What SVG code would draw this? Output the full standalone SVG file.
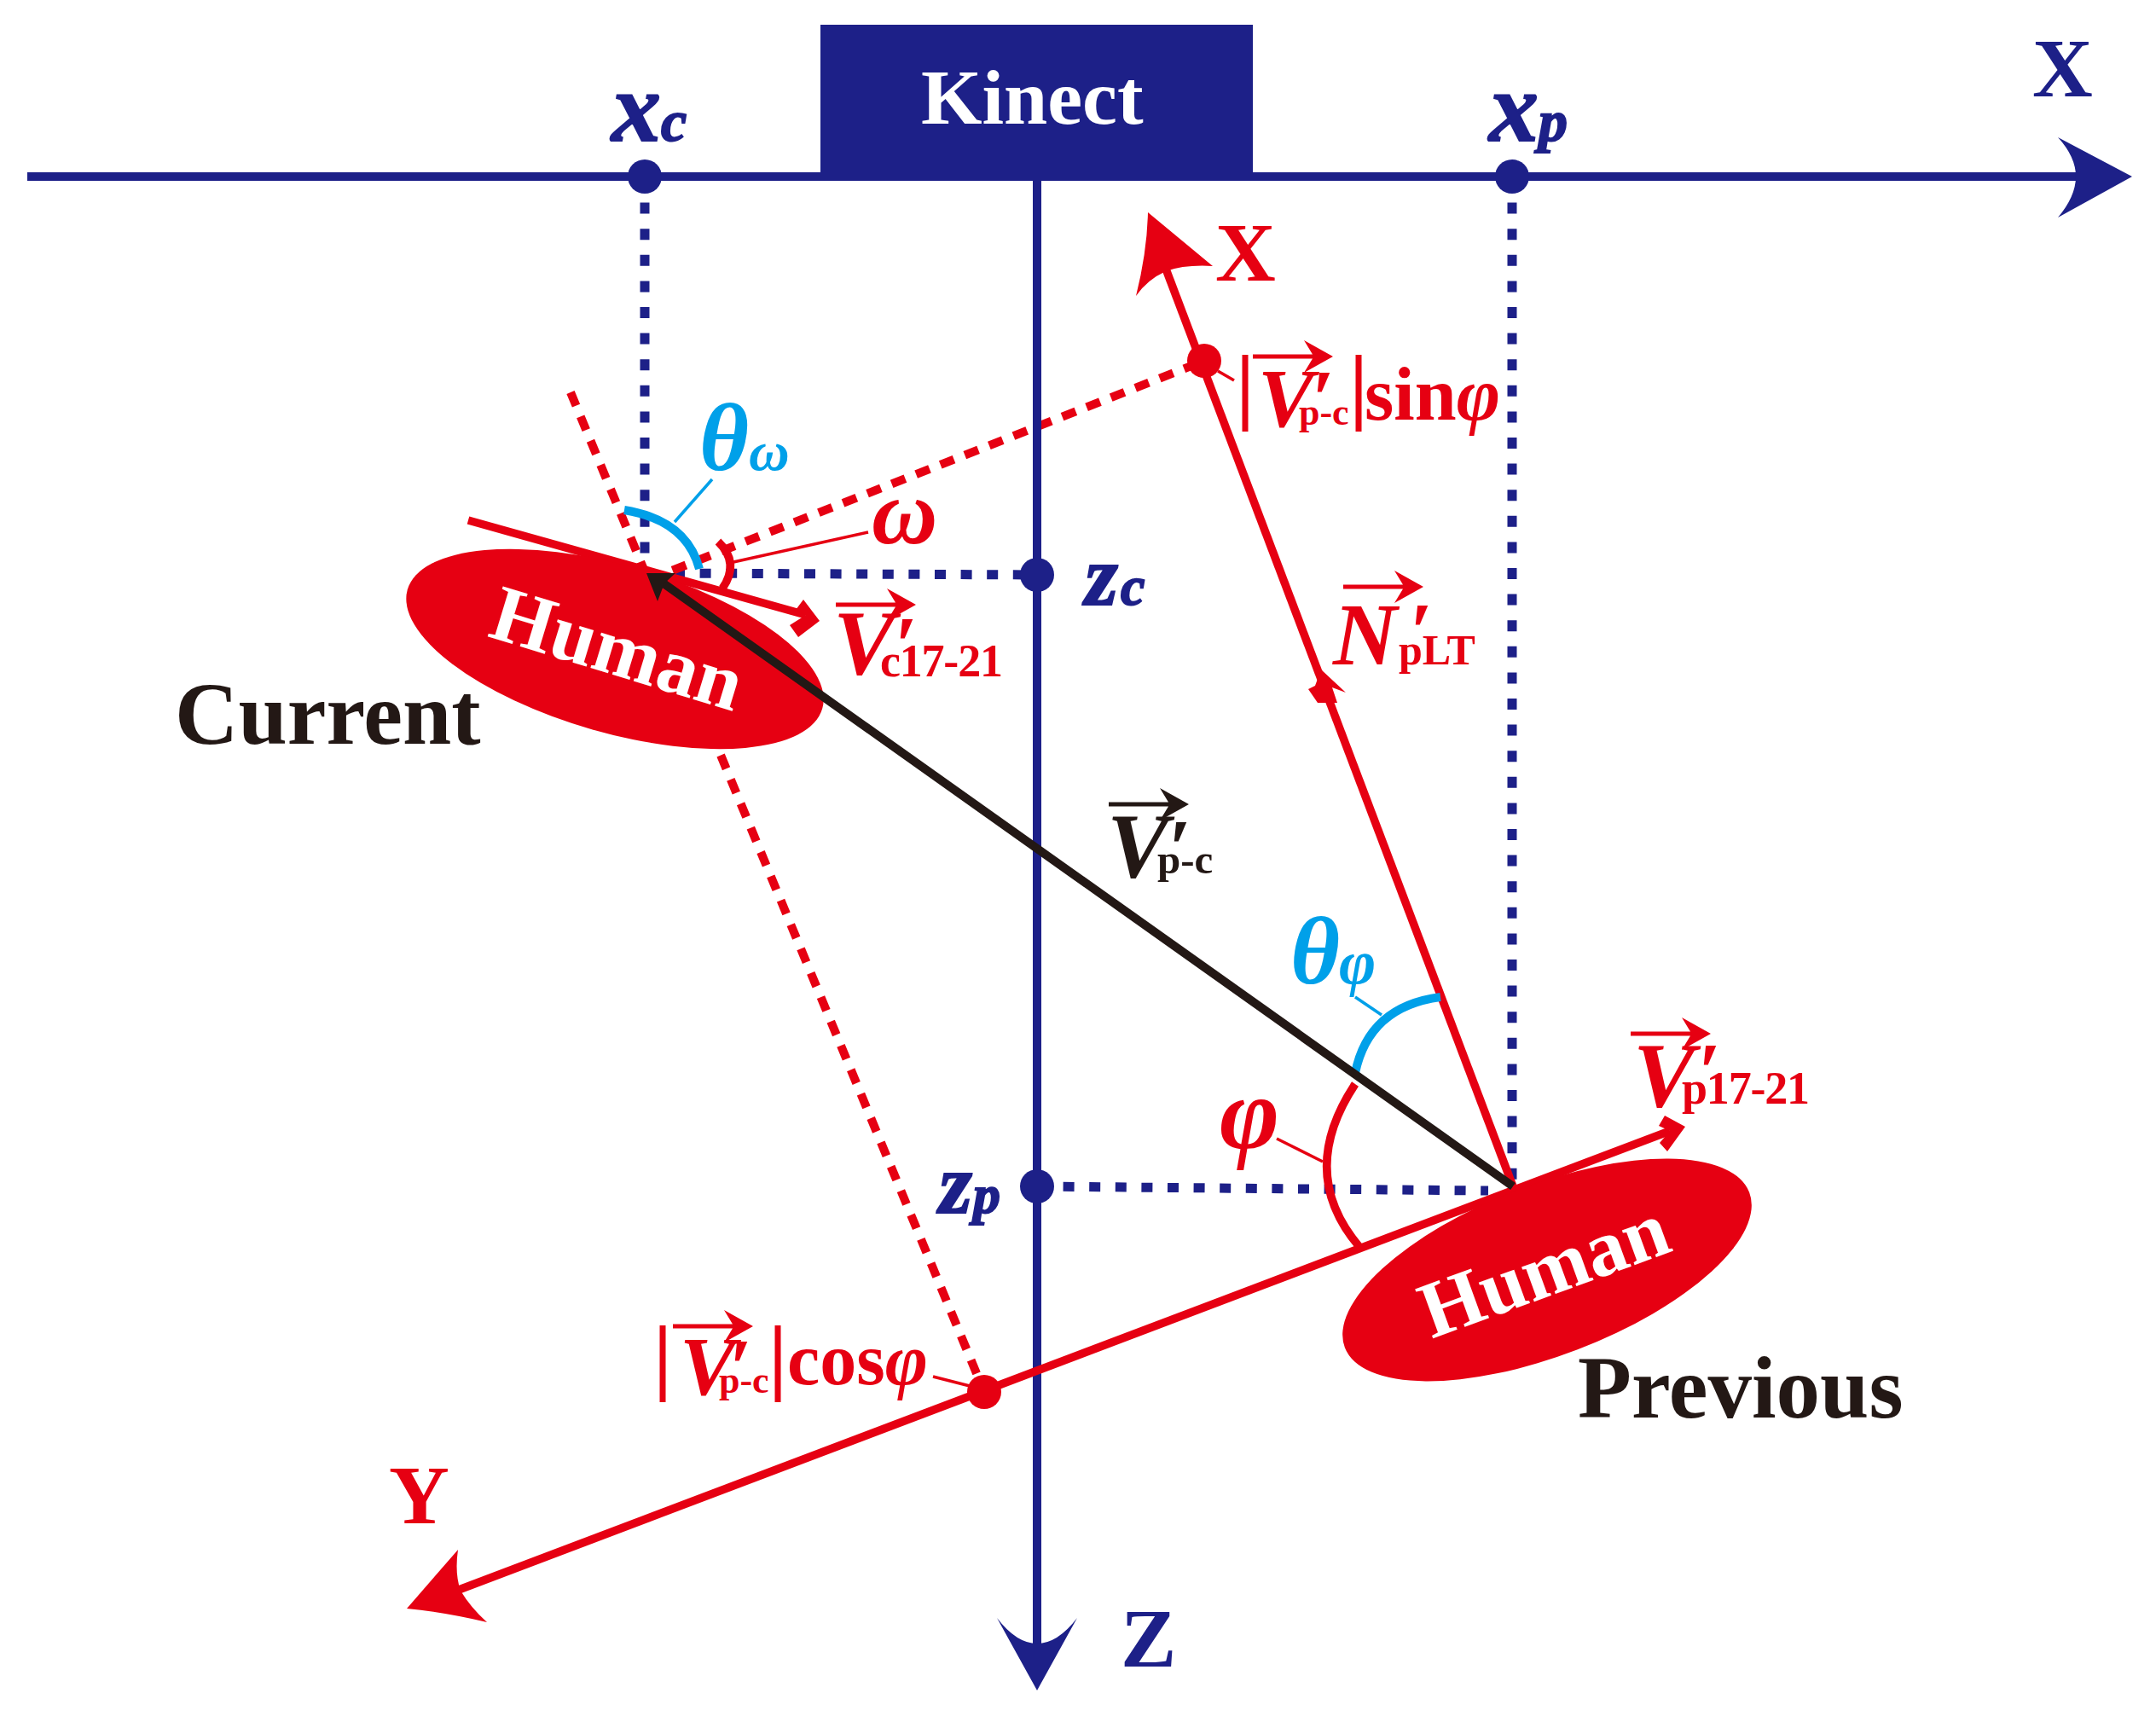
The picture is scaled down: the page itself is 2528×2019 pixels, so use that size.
<svg xmlns="http://www.w3.org/2000/svg" width="2528" height="2019" viewBox="0 0 2528 2019">
<style>
text{font-family:"Liberation Serif","Times New Roman",serif;font-weight:bold}
.i{font-style:italic}
.n{fill:#1d2088}.r{fill:#e60012}.c{fill:#00a0e9}.k{fill:#231815}.w{fill:#fff}
.ln{stroke:#1d2088;stroke-width:10;fill:none}
.dn{stroke:#1d2088;stroke-width:11;stroke-dasharray:13 17.6;fill:none}
.lr{stroke:#e60012;stroke-width:9.5;fill:none}
.dr{stroke:#e60012;stroke-width:10;stroke-dasharray:17 13.7;fill:none}
.lc{stroke:#00a0e9;stroke-width:10;fill:none}
.tr{stroke:#e60012;stroke-width:3.5;fill:none}
.tc{stroke:#00a0e9;stroke-width:3.5;fill:none}
.v{font-size:108px;letter-spacing:-24px}.v2{font-size:98px;letter-spacing:-20px}.pr{font-size:96px;font-style:italic}
.s{font-size:54px;letter-spacing:-1.2px}.s2{font-size:44px}.s3{font-size:49px}.s4{font-size:50px}.l{font-size:98px}.h{font-size:94px;text-anchor:middle}
.big{font-size:103px}
.bd{stroke-width:2px}
.sn{stroke:#1d2088}
</style>
<defs>
<path id="ov" d="M0,-2.5H70L60,-19L94,0L60,19L70,2.5H0Z"/>
</defs>
<rect width="2528" height="2019" fill="#fff"/>
<g id="connectors">
<path class="dn" d="M756,207V672"/>
<path class="dn" d="M790,672L1216,674"/>
<path class="dn" d="M1773,207V1391"/>
<path class="dn" d="M1216,1391L1745,1396"/>
<path class="dr" d="M669,460L1154,1632"/>
<path class="dr" d="M760,680L1412,423"/>
<path class="ln" d="M32,207H2440"/>
<path class="n" d="M2500,207L2413,161Q2434,184 2434,207Q2434,230 2413,255Z"/>
<path class="ln" d="M1216,207V1930"/>
<path class="n" d="M1216,1982L1169,1897Q1192,1927 1216,1927Q1240,1927 1263,1897Z"/>
<path class="lr" d="M1774,1391L1365,310"/>
<path class="r" d="M1346,249L1422,312Q1390,310 1367,318Q1345,328 1332,347Q1345,295 1346,249Z"/>
<path class="r" d="M1549,785L1578,812L1562,806L1568,824L1545,824L1534,808L1542,804Z"/>
<path class="lr" d="M1958,1326L530,1867"/>
<path class="r" d="M477,1886L537,1817Q533,1845 540,1865Q552,1885 571,1902Q520,1890 477,1886Z"/>
<path class="r" d="M1976,1321L1952,1308L1945,1320L1958,1326L1946,1340L1955,1350Z"/>
<path class="lr" d="M549,610L945,721"/>
<path class="r" d="M961,728L942,703L933,715L945,721L926,733L936,747Z"/>
<path class="lc" d="M732,598Q805,610 820,667"/>
<path class="tc" d="M791,612L835,562"/>
<path class="lr" d="M842,635Q868,660 847,690"/>
<path class="tr" d="M860,659L1018,624"/>
<path class="lc" d="M1689,1169Q1605,1180 1589,1258"/>
<path class="tc" d="M1620,1190L1589,1169"/>
<path class="lr" d="M1589,1271Q1520,1375 1594,1462"/>
<path class="tr" d="M1551,1362L1497,1335"/>
<path class="tr" d="M1428,435L1447,446"/>
<path class="tr" d="M1094,1614L1137,1625"/>
</g>
<g id="human-current">
<ellipse class="r" cx="721" cy="761" rx="253" ry="98" transform="rotate(16 721 761)"/>
<text class="h w" transform="translate(715 790) rotate(17)">Human</text>
</g>
<g id="human-previous">
<ellipse class="r" cx="1814" cy="1489" rx="254" ry="100" transform="rotate(-21 1814 1489)"/>
<text class="h w" transform="translate(1821 1518) rotate(-20)">Human</text>
</g>
<g id="pc-vector">
<path d="M1774,1391L778,684" stroke="#231815" stroke-width="10" fill="none"/>
<path class="k" d="M758,672L792,672L779,684L771,705Z"/>
</g>
<g id="kinect">
<rect class="n" x="962" y="29" width="507" height="178"/>
<text class="w" x="1080" y="145" font-size="92">Kinect</text>
</g>
<g id="xc"><circle class="n" cx="756" cy="207" r="20"/><text class="n i sn bd" x="717" y="165" font-size="116">x</text><text class="n i sn bd" x="775" y="165" font-size="68">c</text></g>
<g id="xp"><circle class="n" cx="1773" cy="207" r="20"/><text class="n i sn bd" x="1746" y="165" font-size="116">x</text><text class="n i sn bd" x="1804" y="165" font-size="68">p</text></g>
<g id="zc"><circle class="n" cx="1216" cy="674" r="20"/><text class="n i sn bd" x="1272" y="709" font-size="100">z</text><text class="n i sn bd" x="1314" y="709" font-size="64">c</text></g>
<g id="zp"><circle class="n" cx="1216" cy="1391" r="20"/><text class="n i sn bd" x="1101" y="1422" font-size="100">z</text><text class="n i sn bd" x="1141" y="1422" font-size="64">p</text></g>
<g id="axis-labels">
<text class="n l" x="2383" y="113">X</text>
<text class="n l" x="1314" y="1954">Z</text>
<text class="r l" x="1425" y="329">X</text>
<text class="r l" x="456" y="1786">Y</text>
</g>
<g id="state-labels">
<text class="k big" x="205" y="872">Current</text>
<text class="k big" x="1850" y="1662">Previous</text>
</g>
<g id="angle-labels">
<text class="c i" x="820" y="551" font-size="112">θ</text><text class="c i" x="878" y="551" font-size="66">ω</text>
<text class="r i" x="1022" y="637" font-size="107">ω</text>
<text class="c i" x="1513" y="1153" font-size="112">θ</text><text class="c i" x="1570" y="1153" font-size="74">φ</text>
<text class="r i" x="1430" y="1346" font-size="120">φ</text>
</g>
<g id="vector-labels">
<use href="#ov" class="r" x="980" y="709"/><text class="r i v" x="977" y="790">V</text><text class="r pr" x="1048" y="789">′</text><text class="r s" x="1032" y="793">c17-21</text>
<use href="#ov" class="k" x="1300" y="943"/><text class="k i v" x="1298" y="1028">V</text><text class="k pr" x="1369" y="1027">′</text><text class="k s3" x="1357" y="1024">p-c</text>
<use href="#ov" class="r" x="1912" y="1212"/><text class="r i v" x="1915" y="1297">V</text><text class="r pr" x="1990" y="1289">′</text><text class="r s" x="1972" y="1294">p17-21</text>
<use href="#ov" class="r" x="1575" y="688"/><text class="r i" x="1563" y="779" font-size="104" letter-spacing="-24">N</text><text class="r pr" x="1652" y="773">′</text><text class="r s4" x="1640" y="779">pLT</text>
<text class="r" x="1449" y="485" font-size="100">|</text>
<use href="#ov" class="r" x="1469" y="418"/><text class="r i v2" x="1475" y="500">V</text><text class="r pr" x="1537" y="500">′</text><text class="r s2" x="1523" y="498">p-c</text>
<text class="r" x="1582" y="485" font-size="100">|</text>
<text class="r" x="1600" y="492" font-size="88">sin<tspan class="i">φ</tspan></text>
<text class="r" x="766" y="1623" font-size="100">|</text>
<use href="#ov" class="r" x="789" y="1555"/><text class="r i v2" x="797" y="1635">V</text><text class="r pr" x="854" y="1636">′</text><text class="r s2" x="843" y="1633">p-c</text>
<text class="r" x="901" y="1623" font-size="100">|</text>
<text class="r" x="923" y="1623" font-size="86">cos<tspan class="i">φ</tspan></text>
</g>
<g id="projection-points">
<circle class="r" cx="1412" cy="423" r="20"/>
<circle class="r" cx="1154" cy="1632" r="20"/>
</g>
</svg>
